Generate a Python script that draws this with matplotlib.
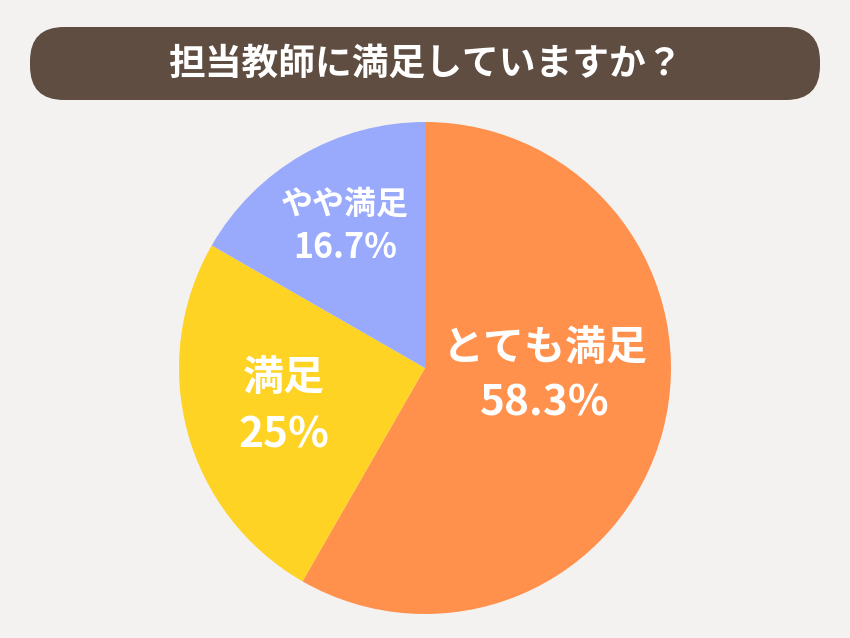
import matplotlib
matplotlib.use("Agg")
import matplotlib.pyplot as plt
from matplotlib.patches import FancyBboxPatch

plt.rcParams['font.family'] = ['Noto Sans CJK JP', 'DejaVu Sans']

title = "担当教師に満足していますか？"
categories = ["とても満足", "満足", "やや満足"]
values = [58.3, 25.0, 16.7]
pct_labels = ["58.3%", "25%", "16.7%"]
colors = ["#FF914D", "#FED324", "#99AAFD"]

W, H = 850, 638
fig = plt.figure(figsize=(W / 100, H / 100), dpi=100)
fig.patch.set_facecolor("#F4F2F0")
ax = fig.add_axes([0, 0, 1, 1])
ax.set_facecolor("#F4F2F0")

ax.pie(values, colors=colors, startangle=90, counterclock=False,
       center=(425, H - 368), radius=246,
       wedgeprops=dict(linewidth=0))

ax.set_xlim(0, W)
ax.set_ylim(0, H)
ax.set_aspect('equal')
ax.axis('off')

# title bar
bar = FancyBboxPatch((30, H - 100), 790, 73,
                     boxstyle="round,pad=0,rounding_size=34",
                     facecolor="#5E4D40", edgecolor="none")
ax.add_patch(bar)
ax.text(425, H - 64, title, ha='center', va='center', color='white',
        fontsize=26.5, fontweight='bold')

# labels: (x, y of name, y of percent, name size, percent size)
label_pos = [(545, 348, 403, 29.5, 30.5), (284, 378, 435, 29.5, 30.5),
             (345, 205, 248, 23, 24.5)]
for cat, pct, (x, y1, y2, fs1, fs2) in zip(categories, pct_labels, label_pos):
    ax.text(x, H - y1, cat, ha='center', va='center', color='white',
            fontsize=fs1, fontweight='bold')
    ax.text(x, H - y2, pct, ha='center', va='center', color='white',
            fontsize=fs2, fontweight='bold')

fig.savefig("out.png", dpi=100, facecolor=fig.get_facecolor())
